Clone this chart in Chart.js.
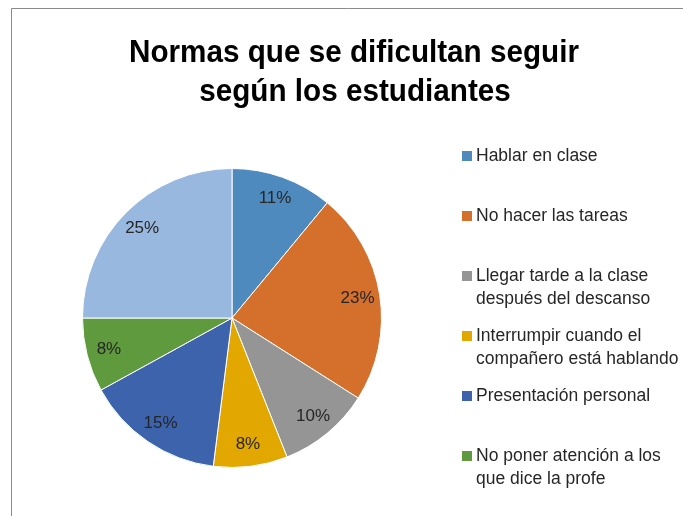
<!DOCTYPE html>
<html>
<head>
<meta charset="utf-8">
<script src="https://cdn.jsdelivr.net/npm/chart.js@4"></script>
<style>
  html, body { margin: 0; padding: 0; background: #fff; overflow: hidden; }
  #wrap { width: 683px; height: 516px; }
</style>
</head>
<body>
<div id="wrap"><canvas id="pieChart" width="683" height="516"></canvas></div>
<script>
// data
const titleLines = ['Normas que se dificultan seguir', 'según los estudiantes'];
const categories = [
    ['Hablar en clase'],
    ['No hacer las tareas'],
    ['Llegar tarde a la clase', 'después del descanso'],
    ['Interrumpir cuando el', 'compañero está hablando'],
    ['Presentación personal'],
    ['No poner atención a los', 'que dice la profe'],
    ['Otras']
];
const percentages = [11, 23, 10, 8, 15, 8, 25];
const sliceColors = ['#4F8ABE', '#D4702C', '#959595', '#E2A700', '#3C63AC', '#5F9A3E', '#98B8DF'];

// frame, title, percent labels and the legend on the right
const decorPlugin = {
    id: 'decor',
    afterDraw(chart) {
        const ctx = chart.ctx;
        ctx.save();

        // chart frame (cut off at right and bottom)
        ctx.strokeStyle = '#8A8A8A';
        ctx.lineWidth = 1;
        ctx.beginPath();
        ctx.moveTo(11.5, chart.height + 1);
        ctx.lineTo(11.5, 8.5);
        ctx.lineTo(chart.width + 1, 8.5);
        ctx.stroke();

        // title - condensed a bit, like the Calibri original
        ctx.fillStyle = '#000';
        ctx.textAlign = 'center';
        ctx.textBaseline = 'alphabetic';
        ctx.font = 'bold 32px "Liberation Sans", Arial, sans-serif';
        const squeeze = 450 / ctx.measureText(titleLines[0]).width;
        ctx.save();
        ctx.translate(354, 0);
        ctx.scale(squeeze, 1);
        ctx.fillText(titleLines[0], 0, 62);
        ctx.fillText(titleLines[1], 1 / squeeze, 101);
        ctx.restore();

        // percent labels inside slices
        const meta = chart.getDatasetMeta(0);
        ctx.font = '17px "Liberation Sans", Arial, sans-serif';
        ctx.fillStyle = '#262626';
        ctx.textBaseline = 'middle';
        meta.data.forEach((arc, i) => {
            const p = arc.getProps(['x', 'y', 'startAngle', 'endAngle', 'outerRadius'], true);
            const mid = (p.startAngle + p.endAngle) / 2;
            const r = p.outerRadius * 0.85;
            ctx.fillText(percentages[i] + '%', p.x + Math.cos(mid) * r, p.y + Math.sin(mid) * r);
        });

        // legend
        ctx.textAlign = 'left';
        ctx.font = '17.5px "Liberation Sans", Arial, sans-serif';
        categories.forEach((lines, i) => {
            const y = 156 + 60 * i;
            if (y + 8 > chart.height) return; // entry cut off by the crop
            ctx.fillStyle = sliceColors[i];
            ctx.fillRect(462, y - 5, 10, 10);
            ctx.fillStyle = '#262626';
            lines.forEach((line, k) => {
                ctx.fillText(line, 476, y + 23 * k);
            });
        });

        ctx.restore();
    }
};

new Chart(document.getElementById('pieChart').getContext('2d'), {
    type: 'pie',
    data: {
        labels: categories.map(c => c.join(' ')),
        datasets: [{
            data: percentages,
            backgroundColor: sliceColors,
            borderColor: '#FFFFFF',
            borderWidth: 1
        }]
    },
    options: {
        responsive: false,
        animation: false,
        layout: {
            padding: { left: 82, top: 168, right: 301, bottom: 48 }
        },
        plugins: {
            legend: { display: false },
            title: { display: false },
            tooltip: { enabled: false }
        }
    },
    plugins: [decorPlugin]
});
</script>
</body>
</html>
